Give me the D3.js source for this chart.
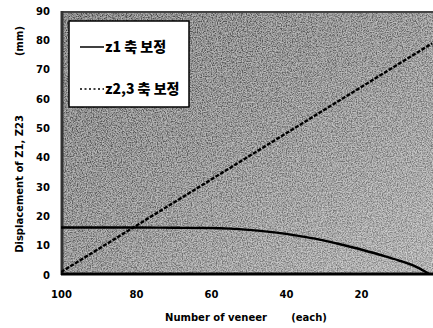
<!DOCTYPE html>
<html><head><meta charset="utf-8">
<script src="https://cdn.jsdelivr.net/npm/d3@7"></script>
<style>body{margin:0;background:#fff}svg{display:block}</style>
</head><body>
<script>
const yTicks = [0,10,20,30,40,50,60,70,80,90];
const xTicks = [100,80,60,40,20];
const z1X = [100,90,80,70,60,55,50,45,40,35,30,25,20,15,10,5,2];
const z1Y = [16.2,16.2,16.2,16.1,16.0,15.8,15.4,14.8,14.0,13.0,11.8,10.3,8.7,6.9,5.0,2.6,0.5];
const z23X = [100,1];
const z23Y = [1.0,79.0];
const seriesNames = ["z1 축 보정","z2,3 축 보정"];

(function(){
const W=433,H=328;
const svg=d3.select("body").append("svg").attr("width",W).attr("height",H);
const pL=61,pR=433,pT=11,pB=275;
const x=d3.scaleLinear().domain([100,0.8]).range([pL,pR]);
const y=d3.scaleLinear().domain([0,90]).range([pB,pT]);

const defs=svg.append("defs");
const g=defs.append("linearGradient").attr("id","bg").attr("x1","0").attr("y1","0").attr("x2","1").attr("y2","1");
g.append("stop").attr("offset","0").attr("stop-color","#666");
g.append("stop").attr("offset","0.5").attr("stop-color","#858585");
g.append("stop").attr("offset","1").attr("stop-color","#ababab");
const f=defs.append("filter").attr("id","noise").attr("x",0).attr("y",0).attr("width","100%").attr("height","100%");
f.append("feTurbulence").attr("type","fractalNoise").attr("baseFrequency","0.8").attr("numOctaves",2).attr("seed",5).attr("result","t");
f.append("feColorMatrix").attr("in","t").attr("type","matrix")
 .attr("values","2.2 0 0 0 -0.6  2.2 0 0 0 -0.6  2.2 0 0 0 -0.6  0 0 0 0 1").attr("result","n");
f.append("feComposite").attr("in","SourceGraphic").attr("in2","n").attr("operator","arithmetic")
 .attr("k1",0).attr("k2",0.75).attr("k3",0.4).attr("k4",-0.05).attr("result","c");
f.append("feComposite").attr("in","c").attr("in2","SourceGraphic").attr("operator","in");
defs.append("clipPath").attr("id","clip").append("rect").attr("x",pL).attr("y",pT).attr("width",pR-pL).attr("height",pB-pT);

svg.append("rect").attr("x",pL).attr("y",pT).attr("width",pR-pL).attr("height",pB-pT)
  .attr("fill","url(#bg)").attr("filter","url(#noise)");

// frame
svg.append("line").attr("x1",pL).attr("x2",pR).attr("y1",pT+1).attr("y2",pT+1).attr("stroke","#444").attr("stroke-width",2);
svg.append("line").attr("x1",pL+1).attr("x2",pL+1).attr("y1",pT).attr("y2",pB).attr("stroke","#333").attr("stroke-width",3);
svg.append("line").attr("x1",pL).attr("x2",pR).attr("y1",pB-1).attr("y2",pB-1).attr("stroke","#000").attr("stroke-width",3);

const font="'DejaVu Sans', 'Liberation Sans', sans-serif";
// y axis
const ya=svg.append("g").attr("transform",`translate(${pL-11},0)`)
  .call(d3.axisLeft(y).tickValues(yTicks).tickSize(0).tickPadding(0));
ya.select(".domain").remove();
ya.selectAll("text").attr("font-family",font).attr("font-weight","bold").attr("font-size",10).attr("fill","#000");
// x axis
const xa=svg.append("g").attr("transform",`translate(0,${pB+16})`)
  .call(d3.axisBottom(x).tickValues(xTicks).tickSize(0).tickPadding(0));
xa.select(".domain").remove();
xa.selectAll("text").attr("font-family",font).attr("font-weight","bold").attr("font-size",10).attr("fill","#000");

// titles
svg.append("text").attr("transform","translate(23,184) rotate(-90)").attr("text-anchor","middle")
  .attr("font-family",font).attr("font-weight","bold").attr("font-size",10).text("Displacement of Z1, Z23");
svg.append("text").attr("transform","translate(23,41) rotate(-90)").attr("text-anchor","middle")
  .attr("font-family",font).attr("font-weight","bold").attr("font-size",10).text("(mm)");
svg.append("text").attr("x",216).attr("y",321).attr("text-anchor","middle")
  .attr("font-family",font).attr("font-weight","bold").attr("font-size",10).text("Number of veneer");
svg.append("text").attr("x",309).attr("y",321).attr("text-anchor","middle")
  .attr("font-family",font).attr("font-weight","bold").attr("font-size",10).text("(each)");

// lines
const plot=svg.append("g").attr("clip-path","url(#clip)");
plot.append("path").datum(z23X.map((v,i)=>[v,z23Y[i]]))
  .attr("d",d3.line().x(d=>x(d[0])).y(d=>y(d[1])))
  .attr("fill","none").attr("stroke","#000").attr("stroke-width",2.4).attr("stroke-dasharray","4,1.5");
plot.append("path").datum(z1X.map((v,i)=>[v,z1Y[i]]))
  .attr("d",d3.line().x(d=>x(d[0])).y(d=>y(d[1])).curve(d3.curveMonotoneX))
  .attr("fill","none").attr("stroke","#000").attr("stroke-width",2.4);

// legend
svg.append("rect").attr("x",69).attr("y",21).attr("width",120).attr("height",86)
  .attr("fill","#fff").attr("stroke","#000").attr("stroke-width",1.5);
const leg=[{y:47,dash:null},{y:89,dash:"2,2.5"}];
leg.forEach((l,i)=>{
  svg.append("line").attr("x1",80).attr("x2",104).attr("y1",l.y).attr("y2",l.y)
    .attr("stroke","#000").attr("stroke-width",1.5).attr("stroke-dasharray",l.dash);
  svg.append("text").attr("x",105).attr("y",l.y+5).attr("font-family","'Noto Sans CJK KR', sans-serif")
    .attr("font-weight",900).attr("font-size",14).text(seriesNames[i]);
});
})();
</script>
</body></html>
